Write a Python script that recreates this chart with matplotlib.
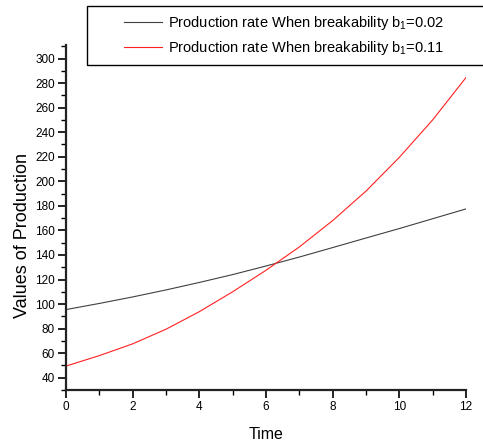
import matplotlib
matplotlib.use("Agg")
import matplotlib.pyplot as plt
from matplotlib.patches import Rectangle
from matplotlib.ticker import MultipleLocator

plt.rcParams['font.family'] = ['Liberation Sans', 'DejaVu Sans']
plt.rcParams['mathtext.fontset'] = 'custom'
plt.rcParams['mathtext.rm'] = 'Liberation Sans'
plt.rcParams['mathtext.default'] = 'regular'

# values
time = [0, 1, 2, 3, 4, 5, 6, 7, 8, 9, 10, 11, 12]
prod_b002 = [95.5, 100.5, 105.8, 111.5, 117.6, 124.0, 131.0, 138.3, 146.0, 153.8, 161.5, 169.5, 177.5]
prod_b011 = [49.5, 58.0, 67.6, 79.5, 93.8, 110.0, 127.5, 146.5, 168.0, 192.0, 219.5, 250.0, 284.5]
labels = ["Production rate When breakability b$_1$=0.02",
          "Production rate When breakability b$_1$=0.11"]

fig = plt.figure(figsize=(4.83, 4.46), dpi=100)
ax = fig.add_axes([66/483, 1 - 390/446, 400/483, 345/446])

l1, = ax.plot(time, prod_b002, color='#404040', lw=0.8)
l2, = ax.plot(time, prod_b011, color='#ff2020', lw=0.8)

ax.set_xlim(0, 12)
ax.set_ylim(30, 311)
ax.xaxis.set_major_locator(MultipleLocator(2))
ax.xaxis.set_minor_locator(MultipleLocator(1))
ax.yaxis.set_minor_locator(MultipleLocator(10))
ax.set_yticks(range(40, 301, 20))

for s in ['top', 'right']:
    ax.spines[s].set_visible(False)
for s in ['left', 'bottom']:
    ax.spines[s].set_linewidth(1.6)
    ax.spines[s].set_color('#222222')

ax.tick_params(which='major', direction='out', length=6, width=1.2, labelsize=8.5, pad=2)
ax.tick_params(which='minor', direction='out', length=3.5, width=1.0)

ax.set_xlabel("Time", fontsize=11.5, labelpad=10)
ax.set_ylabel("Values of Production", fontsize=13)
ax.yaxis.set_label_coords(-0.088, 0.449)

# legend frame runs off the right edge of the picture
fig.patches.append(Rectangle((87/483, 1 - 65/446), 420/483, 59/446,
                             transform=fig.transFigure, fill=False,
                             edgecolor='black', lw=1.0))
fig.legend([l1, l2], labels, loc='center', bbox_to_anchor=(284/483, 1 - 35.5/446),
           frameon=False, fontsize=10.5, handlelength=2.6, handletextpad=0.4,
           labelspacing=0.5, borderpad=0)

fig.savefig("out.png", dpi=100)
